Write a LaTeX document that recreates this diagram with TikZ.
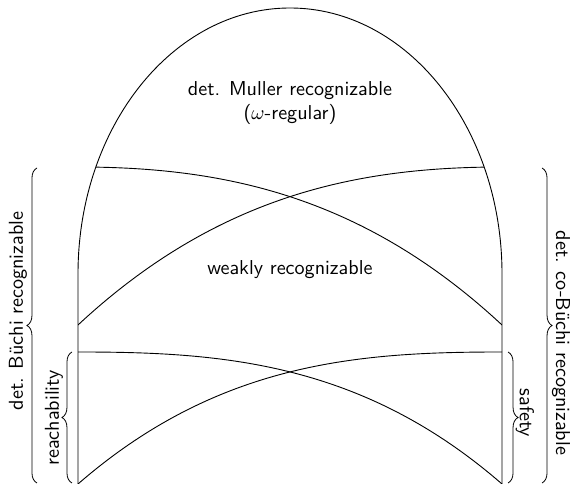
\documentclass[tikz,border=0pt]{standalone}
\usetikzlibrary{decorations.pathreplacing}
\begin{document}
\begin{tikzpicture}[x=0.017452cm,y=0.017452cm,
  lbl/.style={font=\sffamily, inner sep=0pt, align=center},
  bracedeco/.style={decorate, decoration={brace, amplitude=5pt}},
  curve/.style={line width=0.45pt}]
\useasboundingbox (0,0) rectangle (573,484);
% outline
\coordinate (bl) at (78,0);
\coordinate (br) at (502,0);
\draw[curve] (bl) -- (78,210) arc[start angle=180, end angle=0, x radius=212, y radius=266] -- (br);
% upper crossing curves (clipped by the arch)
\begin{scope}
  \clip (78,0) -- (78,210) arc[start angle=180, end angle=0, x radius=212, y radius=266] -- (502,0) -- cycle;
  \draw[curve] (78,317) .. controls (219.3,317) and (360.7,290.5) .. (502,159);
  \draw[curve] (78,159) .. controls (219.3,290.5) and (360.7,317) .. (502,317);
\end{scope}
% lower crossing curves
\draw[curve] (78,132) .. controls (219.3,132) and (360.7,122.8) .. (br);
\draw[curve] (bl) .. controls (219.3,122.8) and (360.7,132) .. (502,132);
% texts
\node[lbl] (muller) at (290,381) {det. Muller recognizable\\($\omega$-regular)};
\node[lbl] (weak) at (290,214) {weakly recognizable};
% braces
\draw[bracedeco] (37,1) -- (37,316);
\draw[bracedeco] (72,1) -- (72,132);
\draw[bracedeco] (542,316) -- (542,1);
\draw[bracedeco] (508,132) -- (508,1);
\node[lbl, rotate=90] (buchi) at (18,173) {det. Büchi recognizable};
\node[lbl, rotate=90] (reach) at (54,66) {reachability};
\node[lbl, rotate=-90] (cobuchi) at (561,141) {det. co-Büchi recognizable};
\node[lbl, rotate=-90] (safety) at (525,71) {safety};
\end{tikzpicture}
\end{document}
